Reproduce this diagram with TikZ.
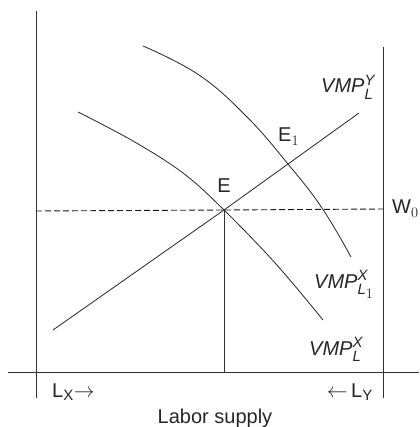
\documentclass[tikz,border=0pt]{standalone}
\usepackage{amsmath}
\usepackage{fontspec}
\setmainfont{Liberation Sans}
\DeclareMathSizes{20}{20}{15}{12}
\usetikzlibrary{positioning}

\begin{document}
\begin{tikzpicture}[
        x=1pt, y=-1pt,
        axis/.style={line width=0.9pt, draw=black!80},
        curve/.style={line width=0.8pt, draw=black!85},
        guide/.style={line width=0.9pt, draw=black!90, dash pattern=on 6pt off 3pt},
        lbl/.style={font=\fontsize{20}{24}\selectfont, inner sep=0pt, text=black!85},
    ]
    \useasboundingbox (0,0) rectangle (419,427);

    % axes
    \coordinate (lxtop) at (36,11);
    \coordinate (lxbot) at (36,398);
    \coordinate (lytop) at (383,47);
    \coordinate (lybot) at (383,398);
    \coordinate (hleft) at (8,372);
    \coordinate (hright) at (419,372);
    \draw[axis] (lxtop) -- (lxbot);
    \draw[axis] (lytop) -- (lybot);
    \draw[axis] (hleft) -- (hright);

    % equilibria
    \coordinate (E) at (224,210);
    \coordinate (Efoot) at (224,372);
    \coordinate (wleft) at (36,211);
    \coordinate (wright) at (383,209);
    \draw[guide] (wleft) -- (E) -- (wright);
    \draw[axis] (E) -- (Efoot);

    % VMP curves and the rising line
    \coordinate (ylo) at (53,330);
    \coordinate (yhi) at (359,113);
    \draw[curve] (ylo) -- (E) -- (yhi);
    \draw[curve] plot[smooth, tension=0.6] coordinates
        {(78,112) (133,141) (183,173) (E) (276,264) (323,320)};
    \draw[curve] plot[smooth, tension=0.7] coordinates
        {(143,46) (199,75) (247,117) (288,164) (322,208) (351,257)};

    % labels
    \node[lbl, anchor=base] (Elbl) at (224,193) {E};
    \node[lbl, anchor=base west] (E1lbl) at (278,142) {E$_{1}$};
    \node[lbl, anchor=base west] (W0lbl) at (392,214) {W$_{0}$};
    \node[lbl, anchor=base west] (vmpy) at (321,93)
        {\textit{VMP}$^{\textit{Y}}_{\textit{L}}$};
    \node[lbl, anchor=base west] (vmpx1) at (314,288)
        {\textit{VMP}$^{\textit{X}}_{\textit{L}_{\scriptstyle 1}}$};
    \node[lbl, anchor=base west] (vmpx) at (309,355)
        {\textit{VMP}$^{\textit{X}}_{\textit{L}}$};
    \node[lbl, anchor=base west] (lx) at (52,397) {L$_{\text{X}}{\rightarrow}$};
    \node[lbl, anchor=base east] (ly) at (373,397) {${\leftarrow}\,$L$_{\text{Y}}$};
    \node[lbl, anchor=base] (supply) at (215,423) {Labor supply};
\end{tikzpicture}
\end{document}
